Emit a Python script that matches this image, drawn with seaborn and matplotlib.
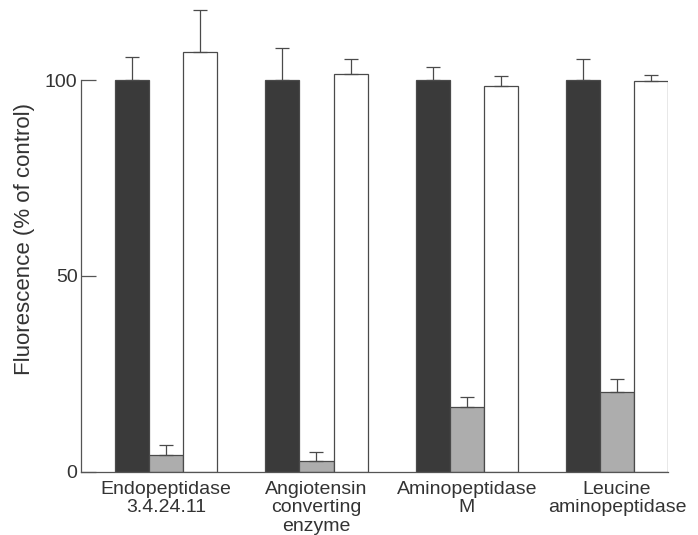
import numpy as np
import pandas as pd
import matplotlib
matplotlib.use("Agg")
import matplotlib.pyplot as plt
import seaborn as sns

categories = ["Endopeptidase\n3.4.24.11", "Angiotensin\nconverting\nenzyme",
              "Aminopeptidase\nM", "Leucine\naminopeptidase"]
series = ["Control", "Treated", "Recovered"]
control = [100, 100, 100, 100]
control_err = [6.0, 8.2, 3.4, 5.3]
treated = [4.3, 2.7, 16.4, 20.3]
treated_err = [2.5, 2.4, 2.6, 3.3]
recovered = [107.1, 101.5, 98.5, 99.7]
recovered_err = [10.8, 3.9, 2.5, 1.6]
yticks = [0, 50, 100]

sns.set_theme(style="white")
plt.rcParams['font.family'] = ['Liberation Sans', 'DejaVu Sans']

values = [control, treated, recovered]
errors = [control_err, treated_err, recovered_err]
df = pd.DataFrame({
    "enzyme": [c for s in series for c in categories],
    "series": [s for s in series for c in categories],
    "value": [v for vals in values for v in vals],
})

colors = ["#3a3a3a", "#adadad", "#ffffff"]
fig = plt.figure(figsize=(6.98, 5.35), dpi=100)
ax = fig.add_axes([0.116, 0.1183, 0.841, 0.8712])
sns.barplot(data=df, x="enzyme", y="value", hue="series", order=categories,
            hue_order=series, palette=colors, saturation=1, width=0.68,
            errorbar=None, legend=False, ax=ax, edgecolor="#4a4a4a", linewidth=0.9)

for cont, errs in zip(ax.containers, errors):
    xs = [p.get_x() + p.get_width() / 2 for p in cont.patches]
    ys = [p.get_height() for p in cont.patches]
    ax.errorbar(xs, ys, yerr=[np.zeros(len(errs)), errs], fmt="none",
                ecolor="#4a4a4a", elinewidth=0.9, capsize=4.7, capthick=0.9, zorder=1)

ax.set_xlim(-0.568, 3.34)
ax.set_ylim(0, 119)
ax.set_yticks(yticks)
ax.set_yticklabels([str(t) for t in yticks])
ax.set_xlabel("")
ax.set_ylabel("Fluorescence (% of control)", fontsize=16, color="#333333", labelpad=7)
for side in ["top", "right"]:
    ax.spines[side].set_visible(False)
for side in ["left", "bottom"]:
    ax.spines[side].set_color("#555555")
    ax.spines[side].set_linewidth(0.9)
ax.spines["left"].set_bounds(0, 100)
ax.tick_params(axis="y", direction="in", length=10.8, width=0.9, color="#555555",
               labelsize=14, labelcolor="#333333", pad=2.5, left=True)
ax.tick_params(axis="x", length=0, labelsize=14, labelcolor="#333333", pad=7)
for lab in ax.get_xticklabels():
    lab.set_linespacing(1.08)

fig.savefig("out.png", dpi=100)
